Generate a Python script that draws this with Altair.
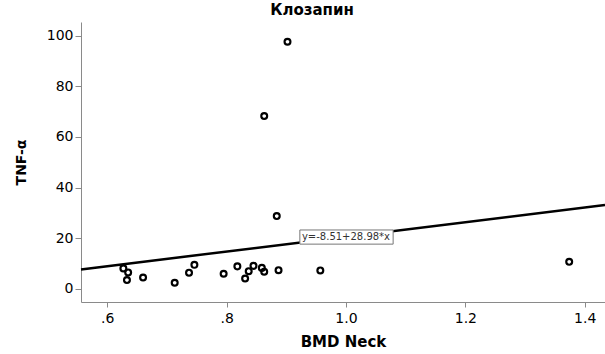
import altair as alt
import pandas as pd

# Data
bmd_neck = [0.627, 0.635, 0.633, 0.660, 0.713, 0.737, 0.746, 0.795, 0.818, 0.831,
            0.837, 0.845, 0.859, 0.863, 0.884, 0.887, 0.957, 1.374, 0.902, 0.863]
tnf_alpha = [8.0, 6.4, 3.4, 4.4, 2.3, 6.3, 9.4, 5.9, 8.8, 4.0,
             6.9, 9.0, 8.2, 6.7, 28.7, 7.3, 7.2, 10.6, 97.7, 68.3]

intercept = -8.51
slope = 28.98
x_domain = [0.556, 1.434]
y_domain = [-5.3, 105.5]
x_ticks = [0.6, 0.8, 1.0, 1.2, 1.4]
y_ticks = [0, 20, 40, 60, 80, 100]

eq_label = ["y=-8.51+28.98*x"]
eq_box_x = [0.9227, 1.079]
eq_box_y = [17.6, 23.2]
eq_text_pos = [1.0, 20.4]

FONT = "DejaVu Sans"

pts = pd.DataFrame({"x": bmd_neck, "y": tnf_alpha})
fit = pd.DataFrame({"x": x_domain})

xscale = alt.Scale(domain=x_domain, nice=False, zero=False)
yscale = alt.Scale(domain=y_domain, nice=False, zero=False)

xaxis = alt.Axis(
    title="BMD Neck", values=x_ticks,
    labelExpr="datum.value < 1 ? substring(format(datum.value, '.1f'), 1) : format(datum.value, '.1f')",
    grid=False, domainColor="#8a8a8a", tickColor="#8a8a8a", tickSize=5,
    labelFont=FONT, labelFontSize=14, labelColor="black", labelPadding=4,
    titleFont=FONT, titleFontSize=15, titleFontWeight="bold", titleColor="black",
    titlePadding=9,
)
yaxis = alt.Axis(
    title="TNF-α", values=y_ticks, format="d",
    grid=False, domainColor="#8a8a8a", tickColor="#8a8a8a", tickSize=6,
    labelFont=FONT, labelFontSize=14, labelColor="black", labelPadding=2,
    titleFont=FONT, titleFontSize=14, titleFontWeight="bold", titleColor="black",
    titleX=-60, titleY=140, titleAngle=-90, titleBaseline="middle", titleAlign="center",
)

points = alt.Chart(pts).mark_point(
    shape="circle", filled=False, color="black", strokeWidth=2.2, size=34, opacity=1
).encode(
    x=alt.X("x:Q", scale=xscale, axis=xaxis),
    y=alt.Y("y:Q", scale=yscale, axis=yaxis),
)

line = alt.Chart(fit).transform_calculate(
    y=f"{intercept} + {slope} * datum.x"
).mark_line(color="black", strokeWidth=2.5).encode(
    x=alt.X("x:Q", scale=xscale),
    y=alt.Y("y:Q", scale=yscale),
)

box_df = pd.DataFrame({"x": [eq_box_x[0]], "x2": [eq_box_x[1]],
                       "y": [eq_box_y[0]], "y2": [eq_box_y[1]]})
box = alt.Chart(box_df).mark_rect(fill="white", stroke="#777777", strokeWidth=1).encode(
    x=alt.X("x:Q", scale=xscale), x2="x2:Q",
    y=alt.Y("y:Q", scale=yscale), y2="y2:Q",
)

txt_df = pd.DataFrame({"x": [eq_text_pos[0]], "y": [eq_text_pos[1]], "t": eq_label})
txt = alt.Chart(txt_df).mark_text(
    font=FONT, fontSize=10, color="#333333", align="center", baseline="middle"
).encode(
    x=alt.X("x:Q", scale=xscale),
    y=alt.Y("y:Q", scale=yscale),
    text="t:N",
)

chart = alt.layer(line, points, box, txt).properties(
    width=524, height=280,
    title=alt.TitleParams("Клозапин", font=FONT, fontSize=15, fontWeight="bold",
                          color="black", anchor="middle", frame="bounds", offset=4),
    autosize=alt.AutoSizeParams(type="none"),
    padding={"left": 81, "top": 22, "right": 0, "bottom": 52},
    background="white",
).configure_view(stroke=None)

chart.save("out.html", embed_options={"renderer": "svg", "actions": False})
